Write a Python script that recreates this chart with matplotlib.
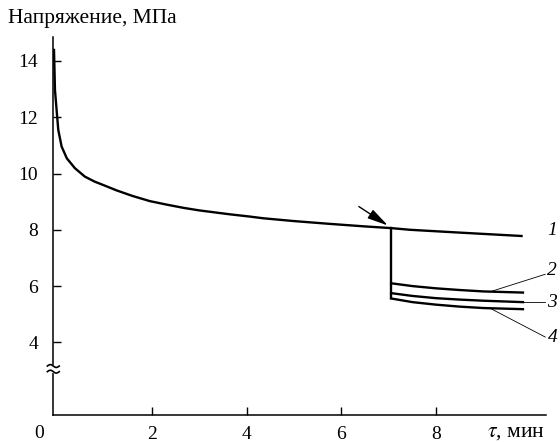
import numpy as np
import matplotlib.pyplot as plt

plt.rcParams['font.family'] = ['Liberation Serif', 'DejaVu Serif']
plt.rcParams['mathtext.fontset'] = 'stix'

# curve 1 (continuous loading)
t1 = [-0.06, -0.04, 0.0, 0.03, 0.1, 0.21, 0.38, 0.59, 0.8, 1.01, 1.26, 1.6,
      1.96, 2.3, 2.67, 3.0, 3.37, 3.65, 4.07, 4.35, 5.0, 5.76, 6.5, 7.05,
      7.45, 8.5, 9.8]
s1 = [14.39, 12.97, 12.15, 11.55, 10.96, 10.54, 10.19, 9.89, 9.71, 9.57, 9.4,
      9.2, 9.02, 8.9, 8.78, 8.69, 8.61, 8.55, 8.47, 8.41, 8.31, 8.21, 8.12,
      8.06, 8.0, 7.9, 7.78]

# drop at t = 7.05 and curves 2-4
t_drop = 7.05
t2 = [7.05, 7.5, 8.0, 8.5, 9.0, 9.83]
s2 = [6.10, 6.00, 5.92, 5.86, 5.81, 5.77]
s3 = [5.75, 5.65, 5.57, 5.52, 5.48, 5.43]
s4 = [5.56, 5.43, 5.34, 5.27, 5.22, 5.18]

xticks = [2, 4, 6, 8]
yticks = [4, 6, 8, 10, 12, 14]

fig = plt.figure(figsize=(5.6, 4.43), dpi=100)
ax = fig.add_axes([53.3 / 560, 28 / 443,
                   (545.7 - 53.3) / 560, (415 - 37) / 443])
ax.set_xlim(-0.075, 10.31)
ax.set_ylim(1.42, 14.85)

lw = 1.7
ax.plot(t1, s1, color='black', lw=lw, solid_joinstyle='round')
ax.plot([t_drop, t_drop], [8.06, s4[0]], color='black', lw=lw)
for s in (s2, s3, s4):
    ax.plot(t2, s, color='black', lw=lw, solid_joinstyle='round')

# arrow at the moment of unloading
ax.annotate('', xy=(7.03, 8.1), xytext=(6.32, 8.88),
            arrowprops=dict(arrowstyle='-|>,head_length=0.7,head_width=0.17',
                            color='black', lw=1.0, mutation_scale=18))

# leader lines and curve numbers
ax.plot([9.14, 10.30], [5.80, 6.42], color='black', lw=0.6, clip_on=False)
ax.plot([9.83, 10.30], [5.43, 5.43], color='black', lw=0.6, clip_on=False)
ax.plot([9.14, 10.30], [5.21, 4.19], color='black', lw=0.6, clip_on=False)
for lab, yy in zip(['1', '2', '3', '4'], [7.96, 6.54, 5.40, 4.18]):
    ax.text(10.45, yy, lab, fontsize=14, style='italic', ha='center',
            va='center', clip_on=False)

for side in ('top', 'right'):
    ax.spines[side].set_visible(False)
for side in ('left', 'bottom'):
    ax.spines[side].set_linewidth(1.1)

ax.set_xticks(xticks)
ax.set_yticks(yticks)
ax.tick_params(direction='in', length=6, width=1.0, labelsize=14)
ax.tick_params(axis='y', pad=11)
ax.tick_params(axis='x', pad=8)

# axis break mark
yb = 3.06
xb = np.linspace(-0.2, 0.05, 30)
wave = 0.05 * np.sin((xb + 0.2) / 0.25 * 2 * np.pi)
ax.plot([-0.075, -0.075], [yb - 0.07, yb + 0.07], color='white', lw=3,
        clip_on=False, zorder=5)
ax.plot(xb, yb + 0.1 + wave, color='black', lw=1.2, clip_on=False, zorder=6)
ax.plot(xb, yb - 0.1 + wave, color='black', lw=1.2, clip_on=False, zorder=6)

fig.text(39.3 / 560, 1 - 433 / 443, '0', fontsize=14, ha='center', va='center')
fig.text(516 / 560, 1 - 433 / 443, r'$\tau$, мин', fontsize=15.5, ha='center',
         va='center')
fig.text(8 / 560, 1 - 19 / 443, 'Напряжение, МПа', fontsize=15.5, ha='left',
         va='center')

fig.savefig('out.png', dpi=100)
